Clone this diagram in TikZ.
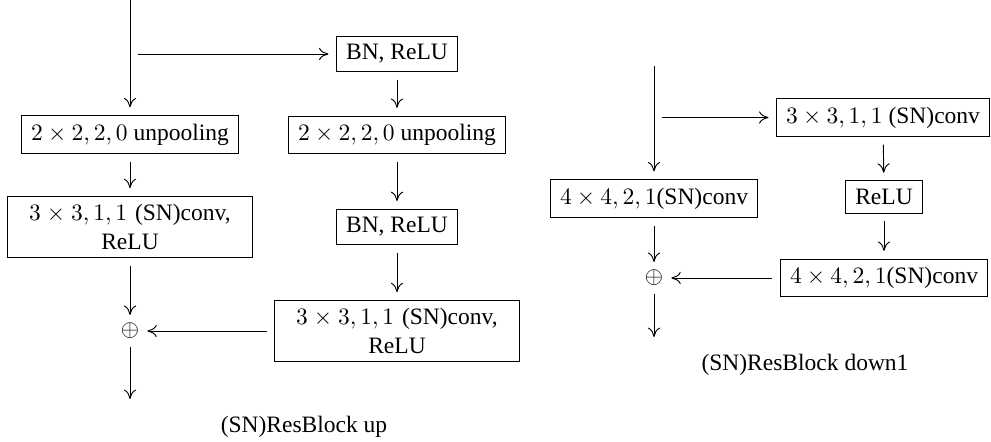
\documentclass[tikz,border=0pt]{standalone}
\usepackage{fontspec}
\setmainfont{Liberation Serif}
\usetikzlibrary{arrows.meta}
\tikzstyle{block} = [rectangle, draw = black, text centered,
	inner xsep = 4pt, inner ysep = 3.5pt, outer sep = 3.5pt]
\tikzstyle{wideblock} = [block, text width = 96pt, align = center]
\tikzstyle{sum} = [inner sep = 0pt, outer sep = 3.5pt]
\tikzstyle{arrow} = [->]

\begin{document}
\begin{tikzpicture}[x = 0.4255pt, y = -0.4255pt, line width = 0.4pt,
	>={To[length = 4pt, width = 5.2pt]}]
\useasboundingbox (0,0) rectangle (991,442);

% (SN)ResBlock up
\coordinate (Uin) at (130,0);
\coordinate (Ufork) at (138,54);
\coordinate (Uout) at (130,399);

\node (U0) [block] at (130,134.5) {$2 \times 2, 2, 0$ unpooling};
\node (U1) [wideblock] at (130,227) {$3 \times 3, 1, 1$ (SN)conv,\\ ReLU};
\node (U2) [sum] at (130,331) {$\oplus$};

\node (U3) [block] at (397,54) {BN, ReLU};
\node (U4) [block] at (397,135) {$2 \times 2, 2, 0$ unpooling};
\node (U5) [block] at (397,227) {BN, ReLU};
\node (U6) [wideblock] at (397,331) {$3 \times 3, 1, 1$ (SN)conv,\\ ReLU};

\node (Ucap) at (304,427) {(SN)ResBlock up};

\draw [arrow] (Uin) -- (U0);
\draw [arrow] (U0) -- (U1);
\draw [arrow] (U1) -- (U2);
\draw [arrow] (U2) -- (Uout);
\draw [arrow] (Ufork) -- (U3);
\draw [arrow] (U3) -- (U4);
\draw [arrow] (U4) -- (U5);
\draw [arrow] (U5) -- (U6);
\draw [arrow] (U6) -- (U2);

% (SN)ResBlock down1
\coordinate (Din) at (654,66);
\coordinate (Dfork) at (662,117.5);
\coordinate (Dout) at (654,337);

\node (D0) [block] at (654,198.5) {$4 \times 4, 2, 1$(SN)conv};
\node (D1) [sum] at (654,278) {$\oplus$};

\node (D2) [block] at (883,117.5) {$3 \times 3, 1, 1$ (SN)conv};
\node (D3) [block] at (884,197) {ReLU};
\node (D4) [block] at (884,278) {$4 \times 4, 2, 1$(SN)conv};

\node (Dcap) at (805,365) {(SN)ResBlock down1};

\draw [arrow] (Din) -- (D0);
\draw [arrow] (D0) -- (D1);
\draw [arrow] (D1) -- (Dout);
\draw [arrow] (Dfork) -- (D2);
\draw [arrow] (D2) -- (D3);
\draw [arrow] (D3) -- (D4);
\draw [arrow] (D4) -- (D1);
\end{tikzpicture}
\end{document}
